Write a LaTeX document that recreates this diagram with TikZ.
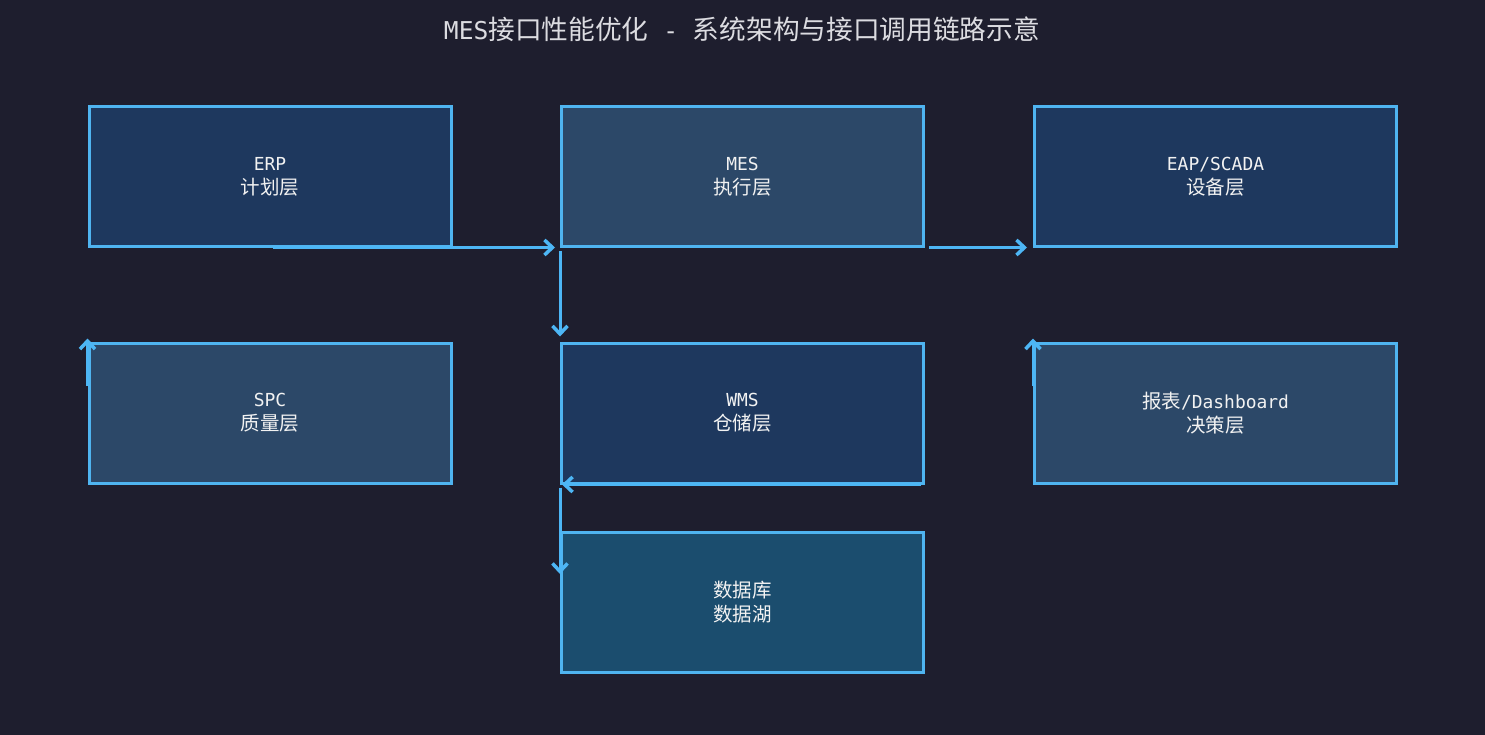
\documentclass[tikz,border=0pt]{standalone}
\usepackage{fontspec}
\setmainfont{DejaVu Sans Mono}[Scale=0.92]
\newfontfamily\cjk{Noto Sans CJK SC}
\usetikzlibrary{arrows.meta}
\definecolor{bg}{RGB}{30,30,46}
\definecolor{edge}{RGB}{79,180,240}
\definecolor{arr}{RGB}{77,182,245}
\definecolor{fa}{RGB}{30,56,94}
\definecolor{fb}{RGB}{44,72,104}
\definecolor{fc}{RGB}{27,77,110}
\definecolor{txt}{RGB}{242,242,242}
\definecolor{ttl}{RGB}{220,220,225}
\tikzset{
  box/.style={draw=edge, line width=3pt, rectangle, minimum width=362pt, minimum height=140pt,
    inner sep=0pt, text=txt, font=\fontsize{19.5}{24}\selectfont, align=center},
  conn/.style={draw=arr, line width=3pt, -{Straight Barb[length=8pt,width=15pt,line width=3.5pt]}}
}
\begin{document}
\begin{tikzpicture}[x=1pt,y=-1pt]
\useasboundingbox[fill=bg] (0,0) rectangle (1485,735);
\node[text=ttl, font=\fontsize{26.7}{30}\selectfont] (title) at (742,29) {MES{\cjk 接口性能优化} - {\cjk 系统架构与接口调用链路示意}};
\node[box, fill=fa] (erp) at (270,177) {ERP\\{\cjk 计划层}};
\node[box, fill=fb] (mes) at (742.5,177) {MES\\{\cjk 执行层}};
\node[box, fill=fa] (eap) at (1215.5,177) {EAP/SCADA\\{\cjk 设备层}};
\node[box, fill=fb] (spc) at (270,413) {SPC\\{\cjk 质量层}};
\node[box, fill=fa] (wms) at (742.5,413) {WMS\\{\cjk 仓储层}};
\node[box, fill=fb] (dash) at (1215.5,413) {{\cjk 报表}/Dashboard\\{\cjk 决策层}};
\node[box, fill=fc] (db) at (742.5,602) {{\cjk 数据库}\\{\cjk 数据湖}};
\coordinate (spcl) at ([yshift=27pt]spc.west);
\coordinate (dashl) at ([yshift=27pt]dash.west);
\coordinate (dbl) at ([yshift=28pt]db.west);
\draw[conn] ([xshift=3pt,yshift=1pt]erp.south) -- ([xshift=-5pt,yshift=1pt]mes.south west);
\draw[conn] ([xshift=4pt,yshift=1pt]mes.south east) -- ([xshift=-6pt,yshift=1pt]eap.south west);
\draw[conn] ([yshift=-3pt]mes.south west) -- ([yshift=5pt]wms.north west);
\draw[conn] (spcl) -- ([yshift=3pt]spc.north west);
\draw[conn] (dashl) -- ([yshift=3pt]dash.north west);
\draw[conn] ([xshift=-4pt]wms.south east) -- ([xshift=2pt]wms.south west);
\draw[conn] ([yshift=-3pt]wms.south west) -- (dbl);
\end{tikzpicture}
\end{document}
